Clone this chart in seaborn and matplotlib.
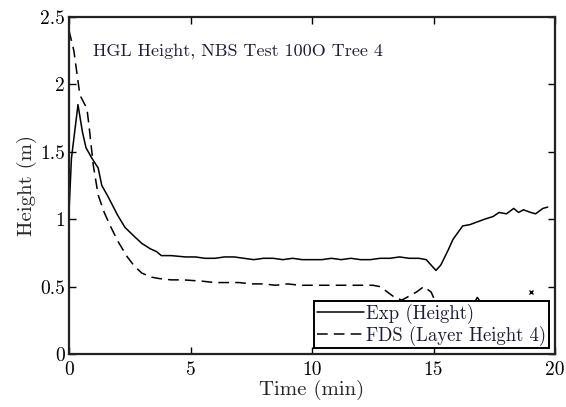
import matplotlib
matplotlib.use("Agg")
import matplotlib.pyplot as plt
import seaborn as sns
import pandas as pd

# Measured hot gas layer height (Exp)
exp_time = [0.0, 0.1, 0.37, 0.55, 0.7, 0.95, 1.2, 1.35, 1.6, 2.0, 2.3, 2.7, 3.0,
            3.35, 3.6, 3.8, 4.2, 4.8, 5.2, 5.6, 6.0, 6.4, 6.8, 7.2, 7.6, 8.0, 8.4,
            8.8, 9.2, 9.6, 10.0, 10.4, 10.8, 11.2, 11.6, 12.0, 12.4, 12.8, 13.2,
            13.6, 14.0, 14.4, 14.7, 14.9, 15.1, 15.3, 15.6, 15.8, 16.0, 16.2, 16.5,
            16.8, 17.1, 17.45, 17.7, 18.0, 18.3, 18.5, 18.7, 19.0, 19.2, 19.5, 19.7]
exp_height = [1.05, 1.45, 1.85, 1.65, 1.53, 1.45, 1.38, 1.25, 1.17, 1.03, 0.94,
              0.87, 0.82, 0.78, 0.76, 0.73, 0.73, 0.72, 0.72, 0.71, 0.71, 0.72,
              0.72, 0.71, 0.70, 0.71, 0.71, 0.70, 0.71, 0.70, 0.70, 0.70, 0.71,
              0.70, 0.71, 0.70, 0.70, 0.71, 0.71, 0.72, 0.71, 0.71, 0.70, 0.66,
              0.62, 0.66, 0.77, 0.85, 0.90, 0.95, 0.96, 0.98, 1.00, 1.02, 1.05,
              1.04, 1.08, 1.05, 1.07, 1.05, 1.04, 1.08, 1.09]

# FDS prediction (Layer Height 4)
fds_time = [0.0, 0.2, 0.45, 0.74, 0.85, 1.0, 1.2, 1.45, 1.7, 2.0, 2.4, 2.7, 3.0,
            3.4, 3.7, 4.2, 4.7, 5.5, 6.0, 6.5, 7.0, 7.5, 8.0, 8.5, 9.0, 9.5, 10.0,
            10.5, 11.0, 11.5, 12.0, 12.5, 12.8, 13.1, 13.4, 13.7, 14.0, 14.3, 14.6,
            14.9, 15.1, 15.5, 16.0, 16.5, 16.8, 17.2, 17.8, 18.5, 19.2, 19.7]
fds_height = [2.40, 2.25, 1.92, 1.82, 1.65, 1.40, 1.18, 1.05, 0.95, 0.84, 0.72,
              0.65, 0.60, 0.57, 0.56, 0.55, 0.55, 0.54, 0.53, 0.53, 0.53, 0.52,
              0.52, 0.51, 0.52, 0.51, 0.51, 0.51, 0.51, 0.51, 0.51, 0.51, 0.50,
              0.46, 0.42, 0.40, 0.43, 0.46, 0.50, 0.46, 0.38, 0.30, 0.26, 0.32,
              0.42, 0.32, 0.28, 0.30, 0.31, 0.36]

series_labels = ["Exp (Height)", "FDS (Layer Height 4)"]
title_text = "HGL Height, NBS Test 100O Tree 4"
x_ticks = [0, 5, 10, 15, 20]
y_ticks = [0, 0.5, 1, 1.5, 2, 2.5]

sns.set_style("ticks")
plt.rcParams["font.family"] = ["cmr10", "DejaVu Serif"]
plt.rcParams["axes.formatter.use_mathtext"] = True
plt.rcParams["mathtext.fontset"] = "cm"

df = pd.concat([
    pd.DataFrame({"Time": exp_time, "Height": exp_height, "Series": series_labels[0]}),
    pd.DataFrame({"Time": fds_time, "Height": fds_height, "Series": series_labels[1]}),
])

fig = plt.figure(figsize=(5.66, 4.07), dpi=100)
ax = fig.add_axes([0.1219, 0.1302, 0.8587, 0.828])

sns.lineplot(data=df, x="Time", y="Height", hue="Series", style="Series",
             palette=["black", "black"], dashes=[(), (7, 4)],
             linewidth=1.1, sort=False, estimator=None, ax=ax)

ax.set_xlim(0, 20)
ax.set_ylim(0, 2.5)
ax.set_xticks(x_ticks)
ax.set_yticks(y_ticks)
ax.set_xticklabels([f"{v:g}" for v in x_ticks])
ax.set_yticklabels([f"{v:g}" for v in y_ticks])
ax.tick_params(direction="in", length=5, width=1, top=True, right=True,
               labelsize=14, colors="black")
ax.tick_params(axis="x", pad=5)
ax.tick_params(axis="y", pad=3)
for s in ax.spines.values():
    s.set_visible(True)
    s.set_linewidth(1.6)
    s.set_color("#222222")

ax.set_xlabel("Time (min)", fontsize=15, labelpad=1)
ax.set_ylabel("Height (m)", fontsize=15, labelpad=2)

ax.text(0.05, 0.9, title_text, transform=ax.transAxes, fontsize=13,
        ha="left", va="center", color="#1c1c3a")

# stray marker near the right edge
ax.plot([19.0], [0.46], marker="x", markersize=3, color="black", linestyle="none")

leg = ax.legend(loc="lower right", fontsize=13.5, frameon=True, fancybox=False,
                framealpha=1, edgecolor="black", handlelength=2.5,
                borderpad=0.15, labelspacing=0.08, handletextpad=0.15,
                borderaxespad=0.3, title=None)
leg.get_frame().set_linewidth(1.4)
for t in leg.get_texts():
    t.set_color("#1c1c3a")

fig.savefig("out.png", dpi=100)
